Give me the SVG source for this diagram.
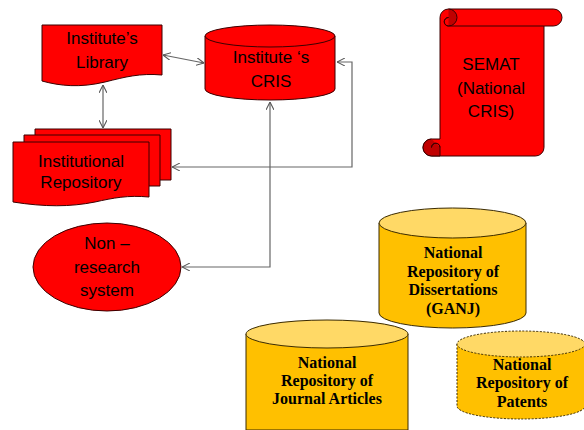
<svg xmlns="http://www.w3.org/2000/svg" width="584" height="430" viewBox="0 0 584 430">
<style>
.red{fill:#FF0000;stroke:#3a0000;stroke-width:1}
.dred{fill:#C00000;stroke:#3a0000;stroke-width:1}
.yb{fill:#FFC000;stroke:#3a2a00;stroke-width:1}
.yt{fill:#FFD966;stroke:#3a2a00;stroke-width:1}
.dash{stroke-dasharray:2,1.5}
.t{font-family:"Liberation Sans",Arial,sans-serif;font-size:17px;fill:#000;text-anchor:middle}
.s{font-family:"Liberation Serif","Times New Roman",serif;font-weight:bold;font-size:16px;fill:#000;text-anchor:middle}
.c{fill:none;stroke:#666;stroke-width:1.2}
</style>
<defs>
<marker id="ah" viewBox="0 0 10 10" refX="10" refY="5" markerWidth="8" markerHeight="8" markerUnits="userSpaceOnUse" orient="auto-start-reverse">
<path d="M0,0 L10,5 L0,10" fill="none" stroke="#555" stroke-width="1.3"/>
</marker>
</defs>
<g id="connectors">
<path class="c" d="M163,55 L204,63" marker-start="url(#ah)" marker-end="url(#ah)"/>
<path class="c" d="M103,85 L103,128" marker-start="url(#ah)" marker-end="url(#ah)"/>
<path class="c" d="M337,62 H352 V167 H172" marker-start="url(#ah)" marker-end="url(#ah)"/>
<path class="c" d="M270,102 V267 H182" marker-start="url(#ah)" marker-end="url(#ah)"/>
</g>
<g id="library">
<path class="red" d="M42,25 H162 V75 C140,73 125,77 105,82 C80,88 60,86 42,81 Z"/>
<text class="t" x="102" y="44">Institute’s</text>
<text class="t" x="102" y="68">Library</text>
</g>
<g id="cris">
<path class="red" d="M205,36 V89 A65,11 0 0 0 335,89 V36"/>
<ellipse class="red" cx="270" cy="36" rx="65" ry="11"/>
<text class="t" x="271" y="63">Institute ‘s</text>
<text class="t" x="271" y="87">CRIS</text>
</g>
<g id="repository">
<path class="red" d="M35,129 H171 V180 H35 Z"/>
<path class="red" d="M24,135 H160 V186 H24 Z"/>
<path class="red" d="M13,142 H149 V197 C128,195 113,198 95,202 C70,207 45,207 13,202 Z"/>
<text class="t" x="81" y="167">Institutional</text>
<text class="t" x="81" y="188">Repository</text>
</g>
<g id="non-research">
<ellipse class="red" cx="107" cy="267" rx="74" ry="44"/>
<text class="t" x="107" y="249">Non –</text>
<text class="t" x="107" y="273">research</text>
<text class="t" x="107" y="296">system</text>
</g>
<g id="semat">
<path class="red" d="M440,17.5 A8.5,8.5 0 0 1 448.5,9 H553.5 A8.5,8.5 0 0 1 553.5,26 H544 V147.5 A8.5,8.5 0 0 1 535.5,156 H431.5 A8.5,8.5 0 0 1 431.5,139 H440 Z"/>
<path class="dred" d="M448.5,9 A8.5,8.5 0 0 1 448.5,26 A4.25,4.25 0 0 1 448.5,17.5 A4.25,4.25 0 0 0 448.5,26"/>
<path fill="none" stroke="#3a0000" d="M448.5,26 H544"/>
<path class="dred" d="M431.5,139 A8.5,8.5 0 0 0 431.5,156 H440 V147.5 A4.25,4.25 0 0 0 431.5,147.5 A4.25,4.25 0 0 1 440,147.5"/>
<text class="t" x="491" y="70">SEMAT</text>
<text class="t" x="491" y="94">(National</text>
<text class="t" x="491" y="117">CRIS)</text>
</g>
<g id="dissertations">
<path class="yb" d="M379,223 V313 A73.5,15 0 0 0 526,313 V223"/>
<ellipse class="yt" cx="452.5" cy="223" rx="73.5" ry="15"/>
<text class="s" x="453" y="258">National</text>
<text class="s" x="453" y="277">Repository of</text>
<text class="s" x="453" y="295">Dissertations</text>
<text class="s" x="453" y="314">(GANJ)</text>
</g>
<g id="journal">
<path class="yb" d="M246,334 V430 H408 V334"/>
<ellipse class="yt" cx="327" cy="334" rx="81" ry="14"/>
<text class="s" x="327" y="368">National</text>
<text class="s" x="327" y="386">Repository of</text>
<text class="s" x="327" y="404">Journal Articles</text>
</g>
<g id="patents">
<path class="yb dash" d="M457,344 V406 A64,13 0 0 0 585,406 V344"/>
<ellipse class="yt dash" cx="521" cy="344" rx="64" ry="13"/>
<text class="s" x="522" y="370">National</text>
<text class="s" x="522" y="388">Repository of</text>
<text class="s" x="522" y="407">Patents</text>
</g>
</svg>
